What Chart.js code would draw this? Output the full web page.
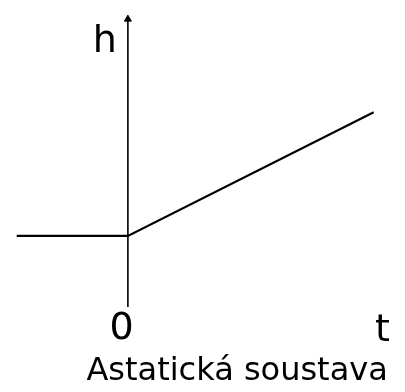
<!DOCTYPE html>
<html>
<head>
<meta charset="utf-8">
<script src="https://cdn.jsdelivr.net/npm/chart.js@4"></script>
<style>
  html, body { margin: 0; padding: 0; background: #fff; }
  #wrap { width: 405px; height: 392px; position: relative; }
</style>
</head>
<body>
<div id="wrap"><canvas id="chart"></canvas></div>
<script>
// step response of an astatic system: flat before 0, ramp after
const timePts = [-4.56, 0, 10.08];
const heightPts = [0, 0, 5.08];
// vertical h axis (drawn as its own series, arrow on top)
const axisT = [0, 0];
const axisH = [-2.92, 8.9];
const labels = { y: 'h', origin: '0', x: 't', title: 'Astatická soustava' };

const toXY = (xs, ys) => xs.map((x, i) => ({ x, y: ys[i] }));

const textPlugin = {
  id: 'axisText',
  afterDraw(chart) {
    const { ctx, scales: { x, y } } = chart;
    ctx.save();
    ctx.fillStyle = '#000';
    ctx.textBaseline = 'alphabetic';
    ctx.font = '38px "DejaVu Sans"';
    ctx.textAlign = 'right';
    ctx.fillText(labels.y, x.getPixelForValue(0) - 11, y.getPixelForValue(7.56));
    ctx.textAlign = 'center';
    ctx.fillText(labels.origin, x.getPixelForValue(-0.26), y.getPixelForValue(-4.24));
    ctx.fillText(labels.x, x.getPixelForValue(10.44), y.getPixelForValue(-4.32));
    ctx.font = '32px "DejaVu Sans"';
    ctx.fillText(labels.title, x.getPixelForValue(4.48), y.getPixelForValue(-5.92));
    ctx.restore();
  }
};

new Chart(document.getElementById('chart'), {
  type: 'scatter',
  data: {
    datasets: [
      {
        data: toXY(timePts, heightPts),
        showLine: true, borderColor: '#000', borderWidth: 2.2,
        pointRadius: 0, tension: 0
      },
      {
        data: toXY(axisT, axisH),
        showLine: true, borderColor: '#000', borderWidth: 1.6,
        pointRadius: [0, 4], pointStyle: 'triangle',
        pointBackgroundColor: '#000', pointBorderColor: '#000', pointBorderWidth: 1
      }
    ]
  },
  options: {
    responsive: true, maintainAspectRatio: false, animation: false,
    layout: { padding: 0 },
    plugins: { legend: { display: false }, tooltip: { enabled: false } },
    scales: {
      x: { type: 'linear', display: false, min: -5.04, max: 11.16 },
      y: { type: 'linear', display: false, min: -6.2, max: 9.48 }
    }
  },
  plugins: [textPlugin]
});
</script>
</body>
</html>
